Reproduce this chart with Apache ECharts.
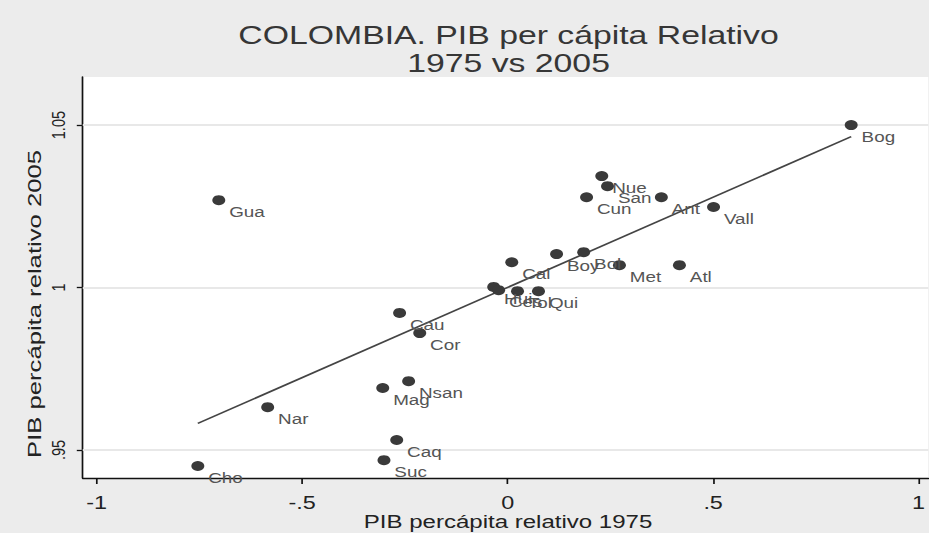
<!DOCTYPE html>
<html>
<head>
<meta charset="utf-8">
<script src="https://cdn.jsdelivr.net/npm/echarts@6/dist/echarts.min.js"></script>
<style>
  html, body { margin: 0; padding: 0; background: #ececec; overflow: hidden; }
  #chart { width: 715px; height: 533px; transform-origin: 0 0; }
</style>
</head>
<body>
<div id="chart"></div>
<script>
// Departamentos de Colombia: PIB per cápita relativo, 1975 vs 2005
const departamentos = ['Bog', 'Gua', 'Nue', 'San', 'Cun', 'Ant', 'Vall', 'Cal', 'Boy', 'Bol', 'Met', 'Atl',
  'Hui', 'Ces', 'Tol', 'Qui', 'Cau', 'Cor', 'Nsan', 'Mag', 'Nar', 'Caq', 'Suc', 'Cho'];
const pib1975 = [0.836, -0.703, 0.229, 0.243, 0.192, 0.374, 0.501, 0.010, 0.119, 0.185, 0.272, 0.418,
  -0.034, -0.022, 0.024, 0.075, -0.263, -0.214, -0.241, -0.304, -0.584, -0.270, -0.301, -0.754];
const pib2005 = [1.0500, 1.0269, 1.0343, 1.0312, 1.0278, 1.0278, 1.0248, 1.0078, 1.0103, 1.0109, 1.0069, 1.0069,
  1.0002, 0.9992, 0.9989, 0.9989, 0.9922, 0.9860, 0.9712, 0.9691, 0.9632, 0.9531, 0.9469, 0.9451];

const xTicks = [-1, -0.5, 0, 0.5, 1];
const yTicks = [0.95, 1, 1.05];

const titulo = 'COLOMBIA. PIB per cápita Relativo\n1975 vs 2005';
const tituloX = 'PIB percápita relativo 1975';
const tituloY = 'PIB percápita relativo 2005';

// Stata-like wide lettering: the drawing is laid out narrower and stretched horizontally
const SX = 929 / 715;
const dom = document.getElementById('chart');
dom.style.transform = 'scaleX(' + SX + ')';

const FONT = '"Liberation Sans", Arial, Helvetica, sans-serif';

// Ordinary least squares fit of 2005 on 1975
const n = pib1975.length;
const mx = pib1975.reduce((a, b) => a + b, 0) / n;
const my = pib2005.reduce((a, b) => a + b, 0) / n;
let sxy = 0, sxx = 0;
for (let i = 0; i < n; i++) {
  sxy += (pib1975[i] - mx) * (pib2005[i] - my);
  sxx += (pib1975[i] - mx) * (pib1975[i] - mx);
}
const slope = sxy / sxx;
const intercept = my - slope * mx;
const xLo = Math.min(...pib1975), xHi = Math.max(...pib1975);
const fitLine = [[xLo, intercept + slope * xLo], [xHi, intercept + slope * xHi]];

// Stata style numbers: .5, -.5, .95
const fmt = v => {
  const r = Math.round(v * 100) / 100;
  return String(r).replace(/^(-?)0\./, '$1.');
};

const chart = echarts.init(dom, null, { renderer: 'svg' });
chart.setOption({
  backgroundColor: '#ececec',
  animation: false,
  textStyle: { fontFamily: FONT },
  grid: {
    left: 63.7, right: 0, top: 77, bottom: 55,
    show: true, backgroundColor: '#ffffff', borderWidth: 0
  },
  graphic: [
    {
      type: 'text', x: 391.4, y: 49,
      style: {
        text: titulo, font: '26px ' + FONT, fill: '#363636',
        textAlign: 'center', textVerticalAlign: 'middle', lineHeight: 28
      }
    },
    {
      type: 'text', x: 391, y: 522,
      style: {
        text: tituloX, font: '18.5px ' + FONT, fill: '#222222',
        textAlign: 'center', textVerticalAlign: 'middle'
      }
    },
    {
      type: 'text', x: 27, y: 304, rotation: Math.PI / 2, scaleX: 1.9,
      style: {
        text: tituloY, font: '13.5px ' + FONT, fill: '#222222',
        textAlign: 'center', textVerticalAlign: 'middle'
      }
    }
  ],
  xAxis: {
    type: 'value', min: -1.034, max: 1.0236,
    axisLine: { show: true, onZero: false, lineStyle: { color: '#111', width: 1.3 } },
    axisTick: { show: true, customValues: xTicks, length: 6, lineStyle: { color: '#111', width: 1.3 } },
    axisLabel: { customValues: xTicks, formatter: fmt, fontSize: 18, color: '#222', margin: 15.5, fontFamily: FONT },
    splitLine: { show: false }
  },
  yAxis: {
    type: 'value', min: 0.9414, max: 1.0648,
    axisLine: { show: true, onZero: false, lineStyle: { color: '#111', width: 1.3 } },
    axisTick: { show: true, customValues: yTicks, length: 4.6, lineStyle: { color: '#111', width: 1.3 } },
    axisLabel: { customValues: yTicks, formatter: fmt, rotate: 90, fontSize: 14.5, color: '#222', margin: 11, fontFamily: FONT },
    splitLine: { show: false }
  },
  series: [
    {
      type: 'line', data: fitLine, symbol: 'none', z: 3,
      lineStyle: { color: '#444444', width: 1.6 },
      markLine: {
        silent: true, symbol: 'none', z: 1, label: { show: false },
        lineStyle: { color: '#e8e8e8', width: 2, type: 'solid' },
        data: yTicks.map(v => ({ yAxis: v }))
      }
    },
    {
      type: 'scatter', z: 4,
      data: pib1975.map((x, i) => [x, pib2005[i], departamentos[i]]),
      symbol: 'circle', symbolSize: 10,
      itemStyle: { color: '#3a3a3a', opacity: 1 },
      label: {
        show: true, formatter: p => p.value[2], position: 'right', distance: 3,
        offset: [0, 12.5], fontSize: 14.5, color: '#555555', fontFamily: FONT
      }
    }
  ]
});
</script>
</body>
</html>
